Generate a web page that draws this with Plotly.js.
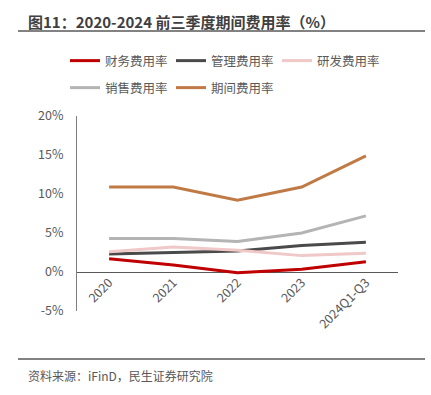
<!DOCTYPE html>
<html><head><meta charset="utf-8">
<script src="https://cdn.plot.ly/plotly-3.0.1.min.js"></script>
<style>html,body{margin:0;padding:0;background:#fff;}#c{width:431px;height:395px;}</style>
</head><body><div id="c"></div>
<script>
const categories = ["2020","2021","2022","2023","2024Q1-Q3"];
const seriesNames = ["财务费用率","管理费用率","研发费用率","销售费用率","期间费用率"];
const finance = [1.7, 0.9, -0.1, 0.35, 1.3];
const admin = [2.3, 2.5, 2.7, 3.4, 3.8];
const rnd = [2.6, 3.2, 2.8, 2.1, 2.4];
const sales = [4.3, 4.3, 3.9, 5.0, 7.2];
const period = [10.9, 10.9, 9.2, 10.9, 14.9];
const colors = ["#C00000","#4A4A4A","#F0C8C8","#B4B4B4","#C07A45"];
const values = [finance, admin, rnd, sales, period];
const yTicks = [-5, 0, 5, 10, 15, 20];

const font = '"Noto Sans CJK SC", "Noto Sans", sans-serif';
const traces = values.map((v,i)=>({
  type:'scatter', mode:'lines', x:categories, y:v, name:seriesNames[i],
  legend: i<3 ? 'legend' : 'legend2',
  line:{color:colors[i], width:3}, hoverinfo:'skip'
}));

const legBase = {orientation:'h', xanchor:'left', yanchor:'middle', xref:'paper', yref:'paper',
  font:{size:12.5, color:'#595959', family:font}, itemwidth:30, tracegroupgap:0,
  entrywidth:61, entrywidthmode:'pixels', bgcolor:'rgba(0,0,0,0)'};
const px2y = py => (395-84-py)/195;
const px2x = px => (px-77)/321;

const layout = {
  width:431, height:395,
  margin:{l:77, r:33, t:116, b:84},
  paper_bgcolor:'#fff', plot_bgcolor:'#fff',
  font:{family:font, color:'#595959', size:12},
  showlegend:true,
  legend:Object.assign({}, legBase, {x:px2x(65), y:px2y(61)}),
  legend2:Object.assign({}, legBase, {x:px2x(65), y:px2y(88)}),
  xaxis:{type:'category', range:[-0.5,4.5], anchor:'free', position:0.2,
    showline:false, showgrid:false, zeroline:false, ticks:'', tickangle:-45,
    tickfont:{size:12.5, color:'#595959', family:font}, fixedrange:true},
  yaxis:{range:[-5,20], tickvals:yTicks, ticktext:yTicks.map(t=>t+'%'),
    showline:true, linecolor:'#7F7F7F', linewidth:1, showgrid:false,
    zeroline:true, zerolinecolor:'#595959', zerolinewidth:1, ticks:'', ticklabelstandoff:10,
    tickfont:{size:12.5, color:'#595959', family:font}, fixedrange:true},
  shapes:[
    {type:'line', xref:'paper', yref:'paper', x0:px2x(18), x1:px2x(425), y0:px2y(31), y1:px2y(31), line:{color:'#595959', width:1.5}},
    {type:'line', xref:'paper', yref:'paper', x0:px2x(18), x1:px2x(425), y0:px2y(359), y1:px2y(359), line:{color:'#595959', width:1.5}}
  ],
  annotations:[
    {text:'<b>图11：2020-2024 前三季度期间费用率（%）</b>', xref:'paper', yref:'paper', x:px2x(26), y:px2y(22),
     xanchor:'left', yanchor:'middle', showarrow:false, font:{size:15, color:'#404040', family:font}},
    {text:'资料来源：iFinD，民生证券研究院', xref:'paper', yref:'paper', x:px2x(26), y:px2y(375),
     xanchor:'left', yanchor:'middle', showarrow:false, font:{size:12, color:'#595959', family:font}}
  ]
};
Plotly.newPlot('c', traces, layout, {displayModeBar:false, staticPlot:true});
</script></body></html>
